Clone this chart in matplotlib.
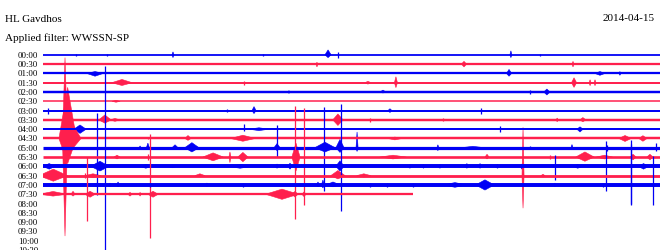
import matplotlib
matplotlib.use("Agg")
import matplotlib.pyplot as plt

# helicorder HL Gavdhos, 2014-04-15, 30 min per line
station = "HL Gavdhos"
filter_name = "Applied filter: WWSSN-SP"
date_str = "2014-04-15"

row_labels = ["00:00", "00:30", "01:00", "01:30", "02:00", "02:30", "03:00", "03:30",
              "04:00", "04:30", "05:00", "05:30", "06:00", "06:30", "07:00", "07:30",
              "08:00", "08:30", "09:00", "09:30", "10:00", "10:30"]

# background noise thickness of each trace (in trace spacings)
noise_amp = [0.19, 0.24, 0.24, 0.21, 0.26, 0.16, 0.21, 0.26,
             0.21, 0.26, 0.34, 0.28, 0.42, 0.30, 0.42, 0.24]

# minutes recorded on the last line
last_line_end = 18.0

# events per line: (minute, duration in minutes, amplitude up, amplitude down)
ev_0000 = [(1.6, 0.05, 0.1, 0.1), (3.11, 0.05, 0.1, 0.1), (6.32, 0.1, 0.32, 0.3),
           (10.7, 0.05, 0.1, 0.1), (13.86, 0.3, 0.53, 0.3), (14.34, 0.05, 0.3, 0.3),
           (22.75, 0.1, 0.43, 0.3), (24.16, 0.05, 0.1, 0.1)]
ev_0030 = [(13.32, 0.1, 0.2, 0.3), (20.47, 0.25, 0.3, 0.3), (25.77, 0.1, 0.3, 0.3)]
ev_0100 = [(2.53, 0.8, 0.2, 0.3), (22.66, 0.25, 0.43, 0.3), (27.08, 0.5, 0.2, 0.2),
           (28.05, 0.1, 0.2, 0.2)]
ev_0130 = [(3.84, 1.0, 0.35, 0.3), (9.77, 0.05, 0.2, 0.2), (15.8, 0.3, 0.15, 0.15),
           (17.16, 0.15, 0.64, 0.53), (25.82, 0.25, 0.53, 0.5), (26.6, 0.1, 0.32, 0.32),
           (26.84, 0.1, 0.32, 0.32)]
ev_0200 = [(11.96, 0.1, 0.15, 0.15), (16.53, 0.3, 0.2, 0.1), (23.68, 0.05, 0.2, 0.2),
           (24.5, 0.3, 0.32, 0.32)]
ev_0230 = [(3.55, 0.4, 0.1, 0.1)]
ev_0300 = [(0.24, 0.05, 0.32, 0.32), (8.95, 0.05, 0.2, 0.2), (10.26, 0.2, 0.43, 0.32),
           (16.87, 0.2, 0.2, 0.2), (21.3, 0.05, 0.32, 0.32)]
ev_0330 = [(3.01, 0.6, 0.53, 0.35), (3.5, 0.5, 0.15, 0.15), (14.34, 0.5, 0.64, 0.6),
           (15.9, 0.05, 0.2, 0.2), (19.45, 0.05, 0.2, 0.15), (25.0, 0.1, 0.2, 0.2),
           (26.25, 0.3, 0.25, 0.2)]
ev_0400 = [(1.8, 0.6, 0.45, 0.45), (9.77, 0.05, 0.55, 0.2), (10.5, 1.0, 0.15, 0.15),
           (22.22, 0.05, 0.32, 0.32), (26.11, 0.3, 0.25, 0.3)]
ev_0430 = [(1.07, 0.25, 8.7, 10.5), (1.2, 0.85, 5.5, 2.7), (1.4, 0.9, 1.7, 1.2),
           (5.1, 0.05, 0.2, 0.1), (7.05, 0.3, 0.32, 0.2), (9.72, 1.2, 0.35, 0.3),
           (17.11, 0.7, 0.15, 0.15), (28.3, 0.6, 0.32, 0.32), (29.17, 0.4, 0.3, 0.3)]
ev_0500 = [(2.63, 0.05, 3.7, 5.1), (4.72, 0.1, 0.2, 0.1), (5.1, 0.15, 0.5, 0.2),
           (6.42, 0.3, 0.32, 0.2), (7.24, 0.7, 0.55, 0.45), (11.38, 0.3, 0.45, 0.3),
           (11.38, 0.05, 2.5, 1.0), (13.66, 0.05, 4.4, 4.7), (13.71, 1.0, 0.6, 0.45),
           (14.44, 0.4, 0.9, 0.5), (15.27, 0.1, 1.7, 0.4), (19.2, 0.1, 0.32, 0.32),
           (20.9, 1.2, 0.15, 0.15), (23.68, 0.05, 0.2, 0.1), (25.72, 0.1, 0.35, 0.2),
           (27.4, 0.05, 0.3, 0.3), (29.8, 0.05, 0.5, 0.3)]
ev_0530 = [(3.6, 0.3, 0.2, 0.2), (5.1, 0.05, 0.3, 0.3), (8.27, 1.0, 0.45, 0.4),
           (9.09, 0.1, 0.55, 0.6), (9.72, 0.5, 0.5, 0.5), (12.3, 0.4, 1.5, 1.5),
           (12.25, 0.05, 5.5, 6.7), (12.69, 0.05, 5.3, 5.2), (17.02, 1.3, 0.2, 0.2),
           (21.59, 0.2, 0.3, 0.2), (24.65, 0.05, 0.2, 0.2), (26.35, 0.9, 0.55, 0.45),
           (27.3, 0.8, 0.2, 0.2), (28.69, 0.3, 0.3, 0.3), (29.51, 0.3, 0.3, 0.3)]
ev_0600 = [(0.3, 0.6, 0.3, 0.3), (2.77, 0.9, 0.55, 0.5), (3.01, 0.05, 10.8, 9.5),
           (5.0, 0.6, 0.2, 0.2), (6.3, 0.5, 0.15, 0.15),
           (9.58, 1.2, 0.2, 0.2), (11.38, 0.2, 0.25, 0.2), (12.01, 0.2, 0.35, 0.3),
           (14.49, 0.05, 6.7, 4.8), (14.44, 0.4, 0.6, 0.5), (17.84, 0.2, 0.2, 0.2),
           (18.5, 0.2, 0.2, 0.2), (19.3, 0.2, 0.2, 0.2), (20.61, 0.2, 0.3, 0.2),
           (21.25, 0.2, 0.3, 0.2), (22.1, 0.3, 0.2, 0.2), (23.29, 0.2, 0.25, 0.3),
           (24.89, 0.05, 1.2, 1.5), (26.0, 0.5, 0.2, 0.2), (27.37, 0.05, 2.7, 2.6),
           (28.59, 0.05, 2.4, 4.1), (29.2, 0.5, 0.3, 0.3)]
ev_0630 = [(0.5, 1.4, 0.7, 0.6), (2.04, 0.05, 0.3, 0.3), (2.43, 0.8, 0.2, 0.2),
           (5.2, 0.05, 4.5, 6.7), (7.63, 0.5, 0.2, 0.1), (14.34, 0.7, 0.55, 0.35),
           (15.6, 0.7, 0.2, 0.15), (23.34, 0.1, 5.2, 3.5), (24.31, 0.2, 0.15, 0.15)]
ev_0700 = [(2.63, 0.8, 0.2, 0.2), (3.26, 0.1, 0.2, 0.2), (3.65, 0.15, 0.32, 0.2),
           (5.2, 0.05, 0.2, 0.2), (7.97, 0.2, 0.2, 0.15), (9.72, 0.05, 0.2, 0.2),
           (13.37, 0.15, 0.32, 0.2), (13.61, 0.15, 0.53, 0.32), (14.1, 0.7, 0.32, 0.2),
           (15.9, 0.05, 0.2, 0.2), (16.73, 0.05, 0.2, 0.2), (17.99, 0.05, 0.2, 0.2),
           (20.03, 1.2, 0.25, 0.25), (21.49, 0.9, 0.55, 0.55), (24.89, 0.1, 0.2, 0.2),
           (27.23, 0.05, 0.2, 0.2), (28.59, 0.05, 4.8, 2.2), (29.66, 0.05, 3.1, 2.2)]
ev_0730 = [(0.49, 1.3, 0.3, 0.2), (1.46, 0.2, 0.32, 0.2), (2.14, 0.05, 4.0, 2.9),
           (2.29, 0.5, 0.32, 0.32), (4.23, 0.2, 0.2, 0.2), (4.72, 0.1, 0.2, 0.2),
           (5.35, 0.5, 0.32, 0.32), (11.62, 1.6, 0.55, 0.55), (12.25, 0.3, 0.3, 0.3),
           (12.69, 0.2, 0.25, 0.25)]

events = [ev_0000, ev_0030, ev_0100, ev_0130, ev_0200, ev_0230, ev_0300, ev_0330,
          ev_0400, ev_0430, ev_0500, ev_0530, ev_0600, ev_0630, ev_0700, ev_0730]

BLUE = "#0000f5"
RED = "#ff1f4d"

fig = plt.figure(figsize=(6.6, 2.5), dpi=100)
ax = fig.add_axes([43 / 660, 0, 617 / 660, 1])
ax.set_xlim(0, 30)
ax.set_ylim(20.69, -5.9)
for s in ax.spines.values():
    s.set_visible(False)
ax.set_xticks([])
ax.set_yticks(range(len(row_labels)))
ax.set_yticklabels(row_labels, fontsize=6.3, family="Liberation Serif")
ax.tick_params(axis="y", length=0, pad=3.5)

px_per_row = 9.4
for i, evs in enumerate(events):
    col = BLUE if i % 2 == 0 else RED
    end = last_line_end if i == len(events) - 1 else 30
    ax.plot([0, end], [i, i], color=col, lw=noise_amp[i] * px_per_row * 0.72,
            solid_capstyle="butt", clip_on=False)
    for t, w, up, dn in evs:
        if w <= 0.06:
            ax.vlines(t, i - up, i + dn, color=col, lw=0.9)
        else:
            ax.fill([t - w / 2, t, t + w / 2, t], [i, i - up, i, i + dn],
                    color=col, lw=0.4)

fig.text(5 / 660, 1 - 22 / 250, station, fontsize=8, family="Liberation Serif")
fig.text(5 / 660, 1 - 41 / 250, filter_name, fontsize=8, family="Liberation Serif")
fig.text(655 / 660, 1 - 21 / 250, date_str, fontsize=8, family="Liberation Serif",
         ha="right")

fig.savefig("out.png", dpi=100)
